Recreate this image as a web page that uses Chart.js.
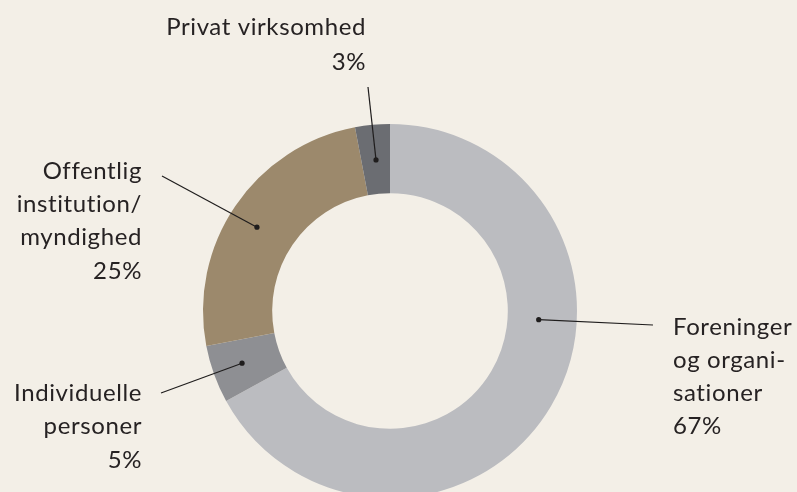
<!DOCTYPE html>
<html>
<head>
<meta charset="utf-8">
<script src="https://cdn.jsdelivr.net/npm/chart.js@4/dist/chart.umd.min.js"></script>
<style>
  html, body { margin: 0; padding: 0; background: #f3efe7; overflow: hidden; width: 797px; height: 492px; }
  #wrap { position: absolute; left: 0; top: 0; width: 797px; height: 498px; }
</style>
</head>
<body>
<div id="wrap"><canvas id="c"></canvas></div>
<script>
const categories = ['Foreninger og organisationer', 'Individuelle personer', 'Offentlig institution/myndighed', 'Privat virksomhed'];
const values = [67, 5, 25, 3];
const labelLines = [
  ['Foreninger', 'og organi-', 'sationer', '67%'],
  ['Individuelle', 'personer', '5%'],
  ['Offentlig', 'institution/', 'myndighed', '25%'],
  ['Privat virksomhed', '3%']
];
const colors = ['#bbbcc0', '#8e8f93', '#9c896c', '#6b6d72'];

const FONT = '24px Lato, "Open Sans", sans-serif';
const TEXT_COLOR = '#262223';
const labelLayout = [
  { x: 673, align: 'left',  y: 327, lh: 33, lx: 653, ly: 325, af: 0.387, rf: 0.45 },
  { x: 142, align: 'right', y: 393, lh: 33.5, lx: 161, ly: 393, af: 0.52,  rf: 0.565 },
  { x: 142, align: 'right', y: 171, lh: 33.3, lx: 162, ly: 176, af: 0.478, rf: 0.57 },
  { x: 366, align: 'right', y: 27,  lh: 35, lx: 368, ly: 87,  af: 0.51,  rf: 0.49 }
];

const leaderPlugin = {
  id: 'leaders',
  afterDatasetsDraw(chart) {
    const ctx = chart.ctx;
    const meta = chart.getDatasetMeta(0);
    ctx.save();
    meta.data.forEach((arc, i) => {
      const L = labelLayout[i];
      const p = arc.getProps(['x', 'y', 'startAngle', 'endAngle', 'innerRadius', 'outerRadius'], true);
      const a = p.startAngle + (p.endAngle - p.startAngle) * L.af;
      const r = p.innerRadius + (p.outerRadius - p.innerRadius) * L.rf;
      const dx = p.x + Math.cos(a) * r;
      const dy = p.y + Math.sin(a) * r;
      ctx.strokeStyle = '#1f1d1d';
      ctx.lineWidth = 1.2;
      ctx.beginPath();
      ctx.moveTo(L.lx, L.ly);
      ctx.lineTo(dx, dy);
      ctx.stroke();
      ctx.fillStyle = '#1f1d1d';
      ctx.beginPath();
      ctx.arc(dx, dy, 2.6, 0, Math.PI * 2);
      ctx.fill();
      ctx.font = FONT;
      if ('letterSpacing' in ctx) ctx.letterSpacing = '0.6px';
      ctx.fillStyle = TEXT_COLOR;
      ctx.textAlign = L.align;
      ctx.textBaseline = 'middle';
      labelLines[i].forEach((t, k) => ctx.fillText(t, L.x, L.y + k * L.lh));
      if ('letterSpacing' in ctx) ctx.letterSpacing = '0px';
    });
    ctx.restore();
  }
};

new Chart(document.getElementById('c'), {
  type: 'doughnut',
  data: {
    labels: categories,
    datasets: [{ data: values, backgroundColor: colors, borderWidth: 0 }]
  },
  options: {
    responsive: true,
    maintainAspectRatio: false,
    animation: false,
    cutout: '63%',
    layout: { padding: { top: 124, bottom: 0, left: 203, right: 220 } },
    plugins: { legend: { display: false }, tooltip: { enabled: false } }
  },
  plugins: [leaderPlugin]
});
</script>
</body>
</html>
